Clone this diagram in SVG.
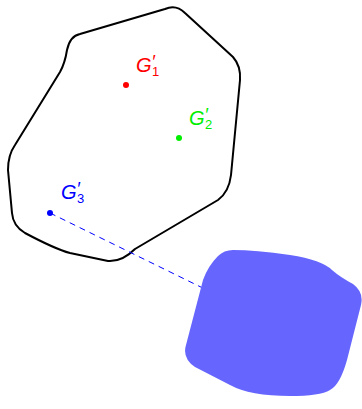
<svg xmlns="http://www.w3.org/2000/svg" width="362" height="409" viewBox="0 0 362 409">
<style>
.lbl{font-family:"Liberation Sans","DejaVu Sans",sans-serif;font-style:italic;font-size:20px}
.pr{font-size:18px}
.sub{font-size:13px;font-style:normal}
</style>
<rect width="362" height="409" fill="#fff"/>
<g id="region">
<path d="M80,34 L165,9 Q176,4 185,13 L233,57 Q241,66 240,80 L231,175 Q229,192 218,200 L135,249 Q122,262 108,261 L70,253 Q55,249 25,233 Q13,226 12,213 L8,170 Q8,155 15,145 L60,72 Q65,63 67,50 Q70,36 80,34 Z" fill="none" stroke="#000" stroke-width="2" stroke-linejoin="round"/>
</g>
<g id="connectors">
<line x1="50" y1="213" x2="215" y2="294" stroke="#0000ff" stroke-width="1" stroke-dasharray="6,5"/>
</g>
<g id="blob">
<path d="M233,250 Q255,250 290,255 Q322,260 332,270 Q340,277 353,284 Q364,292 361,305 L347,360 Q340,385 330,390 Q320,396 290,396 Q250,396 230,385 L195,367 Q182,358 186,345 L203,280 Q208,266 218,256 Q224,250 233,250 Z" fill="#6666ff"/>
</g>
<g id="G1">
<circle cx="126" cy="85" r="3" fill="#ff0000"/>
<text class="lbl" x="136" y="72" fill="#ff0000">G<tspan class="pr" dy="-4">′</tspan><tspan class="sub" dx="-3" dy="8">1</tspan></text>
</g>
<g id="G2">
<circle cx="179" cy="138" r="3" fill="#00ee00"/>
<text class="lbl" x="189" y="125" fill="#00ee00">G<tspan class="pr" dy="-4">′</tspan><tspan class="sub" dx="-3" dy="8">2</tspan></text>
</g>
<g id="G3">
<circle cx="50" cy="213" r="3" fill="#0000ff"/>
<text class="lbl" x="61" y="199" fill="#0000ff">G<tspan class="pr" dy="-4">′</tspan><tspan class="sub" dx="-3" dy="8">3</tspan></text>
</g>
</svg>
